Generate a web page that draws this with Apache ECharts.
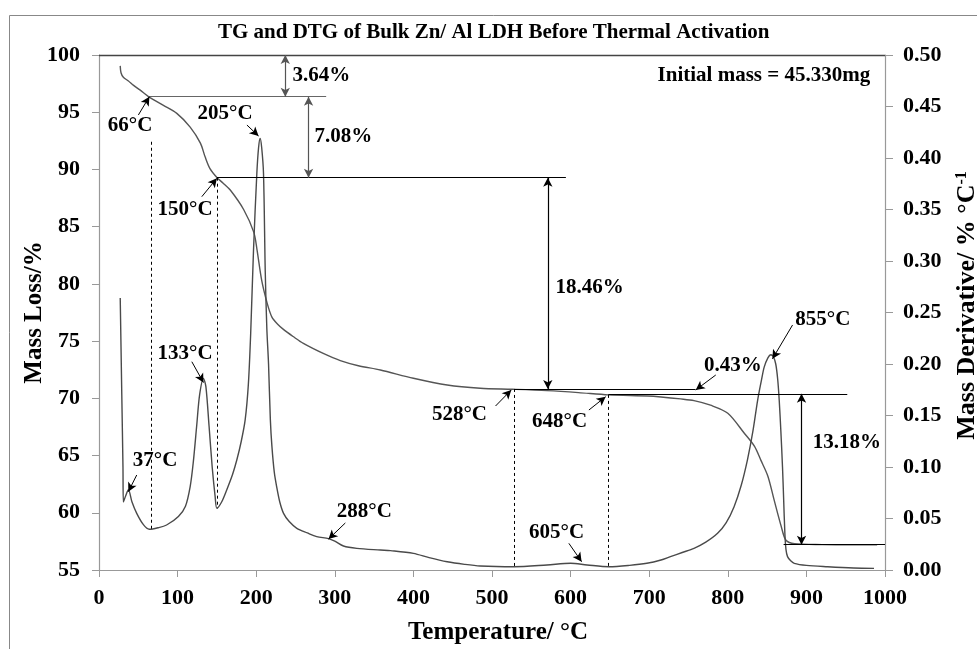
<!DOCTYPE html>
<html><head><meta charset="utf-8">
<script src="https://cdn.jsdelivr.net/npm/echarts@6/dist/echarts.min.js"></script>
<style>html,body{margin:0;padding:0;background:#fff}#c{width:977px;height:649px}</style>
</head><body><div id="c"></div>
<script>
// ---- data ----
const titleText = 'TG and DTG of Bulk Zn/ Al LDH Before Thermal Activation';
const xTickValues = [0,100,200,300,400,500,600,700,800,900,1000];
const massTicks = [55,60,65,70,75,80,85,90,95,100];
const derivTicks = [0.00,0.05,0.10,0.15,0.20,0.25,0.30,0.35,0.40,0.45,0.50];

const tgTemp = [27,28,31,37,44,52,63,72,82,99,116,129,135,141,150,158,167,184,197,201,207,214,220,227,235,247,260,286,307,330,358,400,443,485,526,570,610,648,698,715,740,757,778,800,821,834,842,851,859,868,874,885,920,960,990];
const tgMass = [99.05,98.45,98.05,97.75,97.35,96.95,96.36,96.0,95.6,94.9,93.7,92.3,91.1,90.1,89.3,88.8,88.2,86.5,84.5,83.0,80.3,78.3,77.1,76.5,76.0,75.4,74.8,73.9,73.3,72.85,72.48,71.75,71.16,70.88,70.79,70.67,70.5,70.3,70.2,70.12,69.95,69.8,69.4,68.7,66.95,65.8,64.6,63.2,61.1,58.8,57.6,57.3,57.22,57.2,57.2];

const dtgTemp = [27,29,30.5,31,34,37.4,42,48,56.5,64,75,86,101,110,116,120,124.4,128,132.9,136,140,144,147.8,150,156,162.6,170,175.4,181,186,190,193,196.6,200.8,203,205,207,209.3,211.5,213.5,215.7,218,220,223,226,230,234.8,242,251.7,265,277,292,300,311,328,358,371,400,420,443,465,485,528,570,600,621,649,675,697,715,727,742,757,772,787,798,808,817,825,832,838,843,846.3,851,854.8,858,861,863.5,865.4,867.5,869.6,871,872.6,874,876,880,884.5,900,927,960,986];
const dtgRate = [0.264,0.17,0.10,0.066,0.072,0.078,0.066,0.055,0.044,0.0395,0.041,0.0437,0.052,0.062,0.081,0.105,0.141,0.170,0.186,0.178,0.14,0.10,0.071,0.060,0.066,0.078,0.093,0.107,0.125,0.146,0.18,0.23,0.311,0.385,0.41,0.419,0.41,0.385,0.29,0.235,0.20,0.146,0.12,0.095,0.081,0.066,0.055,0.047,0.0405,0.036,0.0324,0.0305,0.028,0.0233,0.021,0.0194,0.0188,0.0162,0.012,0.008,0.0055,0.0039,0.0032,0.0049,0.0065,0.0049,0.0032,0.0045,0.0065,0.0097,0.013,0.017,0.021,0.027,0.0356,0.046,0.0615,0.082,0.107,0.135,0.165,0.185,0.197,0.206,0.209,0.207,0.20,0.185,0.165,0.135,0.10,0.07,0.0356,0.02,0.013,0.009,0.0065,0.0045,0.0032,0.002,0.0016];

// step levels (mass %) and the annotated losses
const stepLevels = [100, 96.36, 89.28, 70.82, 70.39, 57.21];
const lossLabels = ['3.64%','7.08%','18.46%','0.43%','13.18%'];
const peakLabels = ['37°C','66°C','133°C','150°C','205°C','288°C','528°C','605°C','648°C','855°C'];

// ---- annotation geometry (data units) ----
const FONT = '"Liberation Serif","Times New Roman",serif';
const toLeft = v => 55 + v * 90;   // DTG axis value -> mass axis value

const levelLines = [ // [x1, x2, level, colour]
  [64, 289, stepLevels[1], '#666'],
  [150, 594, stepLevels[2], '#000'],
  [528, 759, stepLevels[3], '#000'],
  [648, 952, stepLevels[4], '#000'],
  [871, 1000, stepLevels[5], '#000']
];
const doubleArrows = [ // [x, yTop, yBottom, colour]
  [237, stepLevels[0], stepLevels[1], '#555'],
  [266.6, stepLevels[1], stepLevels[2], '#555'],
  [571, stepLevels[2], stepLevels[3], '#000'],
  [893.8, stepLevels[4], stepLevels[5], '#000']
];
const dashLines = [ // [x, top (mass), bottom (dtg)]
  [66, 92.42, 0.0395],
  [150, stepLevels[2], 0.060],
  [528, stepLevels[3], 0.003],
  [648, 70.3, 0.003]
];
const pointers = [ // [x1,y1,x2,y2] mass units
  [50.1, 94.76, 64.1, 96.36],
  [188.2, 93.88, 203, 92.92],
  [130.8, 87.62, 150, 89.23],
  [118.1, 73.2, 132.9, toLeft(0.182)],
  [48, 63.3, 37.3, toLeft(0.076)],
  [313.4, 59.11, 292, toLeft(0.030)],
  [504.5, 69.33, 524.5, 70.73],
  [623.3, 68.98, 644.6, 70.14],
  [597.8, 57.33, 614, 55.73],
  [882.4, 76.41, 856.8, toLeft(0.205)],
  [784.7, 72.04, 759.2, 70.73]
];
const textLabels = [ // [text, x, y]
  [peakLabels[1], 39.5, 93.8],
  [peakLabels[4], 160.5, 94.84],
  [peakLabels[3], 109.6, 86.46],
  [peakLabels[2], 109.6, 73.87],
  [peakLabels[0], 71.3, 64.52],
  [peakLabels[5], 337.6, 60.07],
  [peakLabels[6], 458.6, 68.54],
  [peakLabels[8], 586, 67.93],
  [peakLabels[7], 582.2, 58.23],
  [peakLabels[9], 921, 76.84],
  [lossLabels[3], 806.4, 72.82],
  [lossLabels[0], 282.8, 98.16],
  [lossLabels[1], 310.8, 92.83],
  [lossLabels[2], 624.2, 79.64],
  [lossLabels[4], 951.6, 66.1],
  ['Initial mass = 45.330mg', 845.9, 98.16]
];

const markData = [];
markData.push([{coord:[0,100],symbol:'none',lineStyle:{color:'#444',width:1.3,type:'solid'}},{coord:[1000,100],symbol:'none'}]);
levelLines.forEach(([x1,x2,y,c]) => markData.push([{coord:[x1,y],symbol:'none',lineStyle:{color:c,width:1.2,type:'solid'}},{coord:[x2,y],symbol:'none'}]));
doubleArrows.forEach(([x,y1,y2,c]) => markData.push([{coord:[x,y1],symbol:'arrow',lineStyle:{color:c,width:1.2,type:'solid'},itemStyle:{color:c}},{coord:[x,y2],symbol:'arrow'}]));
dashLines.forEach(([x,yt,db]) => markData.push([{coord:[x,yt],symbol:'none',lineStyle:{color:'#000',width:1,type:[3,3]}},{coord:[x,toLeft(db)],symbol:'none'}]));
pointers.forEach(([x1,y1,x2,y2]) => markData.push([{coord:[x1,y1],symbol:'none',lineStyle:{color:'#000',width:1,type:'solid'}},{coord:[x2,y2],symbol:'arrow'}]));

const axisLbl = {color:'#000', fontFamily:FONT, fontWeight:'bold', fontSize:22};
const chart = echarts.init(document.getElementById('c'));
chart.setOption({
  animation:false,
  backgroundColor:'#fff',
  title:{text:titleText, left:213, top:17, textStyle:{fontFamily:FONT, fontWeight:'bold', fontSize:21, color:'#000'}},
  grid:{left:99, right:92, top:55, bottom:79, containLabel:false, outerBoundsMode:'none'},
  xAxis:{type:'value', min:0, max:1000, interval:100,
    name:'Temperature/ °C', nameLocation:'middle', nameGap:50, nameMoveOverlap:false,
    nameTextStyle:{color:'#000', fontFamily:FONT, fontWeight:'bold', fontSize:25, padding:[0,0,0,12]},
    axisLine:{show:true, lineStyle:{color:'#999', width:1.2}},
    axisTick:{show:true, inside:false, length:7, lineStyle:{color:'#999'}},
    axisLabel:Object.assign({margin:17, formatter:v=>String(v)}, axisLbl),
    splitLine:{show:false}},
  yAxis:[
    {type:'value', min:55, max:100, interval:5, position:'left',
      name:'Mass Loss/%', nameLocation:'middle', nameRotate:90, nameGap:52, nameMoveOverlap:false,
      nameTextStyle:{color:'#000', fontFamily:FONT, fontWeight:'bold', fontSize:25},
      axisLine:{show:true, lineStyle:{color:'#999', width:1.2}},
      axisTick:{show:true, inside:false, length:7, lineStyle:{color:'#999'}},
      axisLabel:Object.assign({margin:19, formatter:v=>String(v)}, axisLbl),
      splitLine:{show:false}},
    {type:'value', min:0, max:0.5, interval:0.05, position:'right',
      name:'Mass Derivative/ % °C{sup|-1}', nameLocation:'middle', nameRotate:90, nameGap:69, nameMoveOverlap:false,
      nameTextStyle:{color:'#000', fontFamily:FONT, fontWeight:'bold', fontSize:26, padding:[0,0,0,14],
        rich:{sup:{fontFamily:FONT, fontWeight:'bold', fontSize:16, color:'#000', verticalAlign:'top', padding:[0,0,8,0]}}},
      axisLine:{show:true, lineStyle:{color:'#999', width:1.2}},
      axisTick:{show:true, inside:false, length:8, lineStyle:{color:'#999'}},
      axisLabel:Object.assign({margin:18, formatter:v=>v.toFixed(2)}, axisLbl),
      splitLine:{show:false}}
  ],
  series:[
    {name:'TG', type:'line', yAxisIndex:0, showSymbol:false, smooth:0.3, silent:true,
      lineStyle:{color:'#555', width:1.4},
      data:tgTemp.map((t,i)=>[t,tgMass[i]]),
      markLine:{silent:true, symbolSize:[7,9], label:{show:false}, animation:false, data:markData}},
    {name:'DTG', type:'line', yAxisIndex:1, showSymbol:false, smooth:0.3, silent:true,
      lineStyle:{color:'#4a4a4a', width:1.4},
      data:dtgTemp.map((t,i)=>[t,dtgRate[i]])}
  ]
});

// annotation texts placed through the chart's own scales
const gfx = [{type:'rect', shape:{x:9.5,y:15.5,width:1100,height:800}, style:{fill:'none', stroke:'#888', lineWidth:1}, silent:true}];
textLabels.forEach(([t,x,y]) => {
  const p = chart.convertToPixel({xAxisIndex:0, yAxisIndex:0}, [x,y]);
  gfx.push({type:'text', x:p[0], y:p[1], silent:true, z:100,
    style:{text:t, fill:'#000', font:'bold 21px ' + FONT, align:'center', verticalAlign:'middle'}});
});
chart.setOption({graphic:gfx});
</script>
</body></html>
